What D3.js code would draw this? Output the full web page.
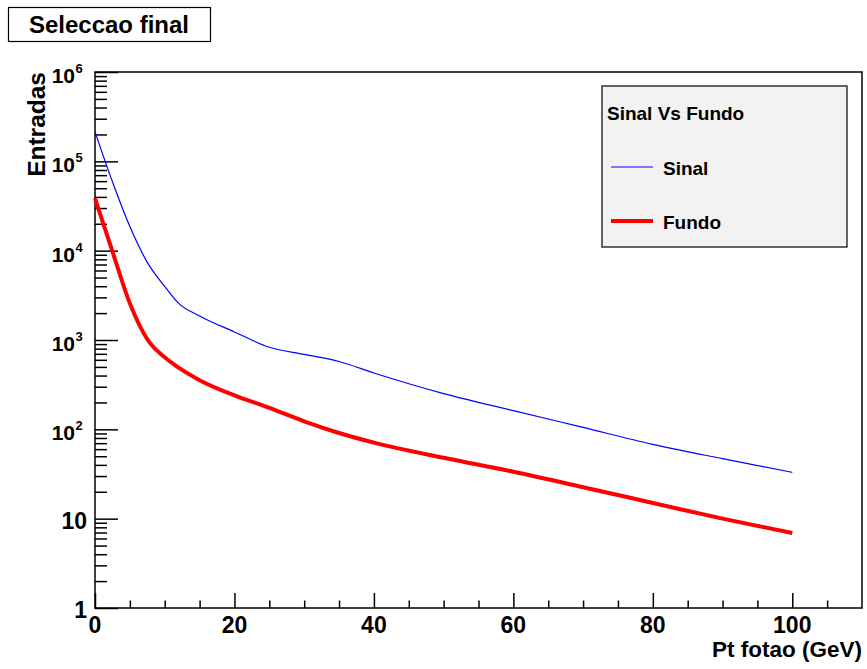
<!DOCTYPE html>
<html>
<head>
<meta charset="utf-8">
<script src="https://cdn.jsdelivr.net/npm/d3@7"></script>
<style>
  body { margin: 0; background: #fff; }
  svg text { font-family: "Liberation Sans", Arial, sans-serif; font-weight: bold; fill: #000; }
</style>
</head>
<body>
<svg id="chart" width="867" height="669"></svg>
<script>
// Pt of the photon (GeV) at which the curves were read
const ptValues = [0, 2.5, 5, 7.5, 10, 12, 15, 20, 25, 30, 35, 40, 50, 60, 70, 80, 90, 100];
// entries, signal (blue, thin)
const sinal = [214000, 59000, 18600, 7400, 3980, 2570, 1860, 1230, 830, 690, 575, 427, 251, 162, 105, 68, 47, 33];
// entries, background (red, thick)
const fundo = [38500, 9800, 2570, 1020, 640, 490, 355, 240, 174, 123, 91, 71, 48, 33.5, 22.5, 15, 10, 6.9];

const xMajorTicks = [0, 20, 40, 60, 80, 100];
const xMinorTicks = [5, 10, 15, 25, 30, 35, 45, 50, 55, 65, 70, 75, 85, 90, 95, 105];
const yMajorTicks = [1, 10, 100, 1e3, 1e4, 1e5, 1e6];
const titleText = "Seleccao final";
const xTitle = "Pt fotao (GeV)";
const yTitle = "Entradas";
const legendTitle = "Sinal Vs Fundo";

const frame = { left: 95, right: 862, top: 72, bottom: 608 };

const svg = d3.select("#chart");

const x = d3.scaleLinear().domain([0, 110]).range([frame.left, frame.right]);
const y = d3.scaleLog().domain([1, 1e6]).range([frame.bottom, frame.top]);

// minor log ticks: 2..9 in each decade
let yMinorTicks = [];
for (let d = 0; d < 6; d++) {
    for (let m = 2; m <= 9; m++) yMinorTicks.push(m * Math.pow(10, d));
}

// frame
svg.append("rect")
    .attr("x", frame.left).attr("y", frame.top)
    .attr("width", frame.right - frame.left)
    .attr("height", frame.bottom - frame.top)
    .attr("fill", "#fff")
    .attr("stroke", "#000")
    .attr("stroke-width", 1.5);

// axes, ticks pointing into the frame
function tickAxis(axis, tr) {
    const g = svg.append("g").attr("transform", tr).call(axis);
    g.select(".domain").remove();
    g.selectAll("line").attr("stroke", "#000").attr("stroke-width", 1.5);
    return g;
}
tickAxis(d3.axisRight(y).tickValues(yMajorTicks).tickSize(23).tickFormat(""), `translate(${frame.left},0)`);
tickAxis(d3.axisRight(y).tickValues(yMinorTicks).tickSize(12).tickFormat(""), `translate(${frame.left},0)`);
tickAxis(d3.axisTop(x).tickValues(xMajorTicks).tickSize(15).tickFormat(""), `translate(0,${frame.bottom})`);
tickAxis(d3.axisTop(x).tickValues(xMinorTicks).tickSize(7.5).tickFormat(""), `translate(0,${frame.bottom})`);

// x tick labels
svg.append("g").selectAll("text")
    .data(xMajorTicks)
    .enter().append("text")
    .attr("x", d => x(d))
    .attr("y", frame.bottom + 25)
    .attr("text-anchor", "middle")
    .style("font-size", "23px")
    .text(d => d);

// y tick labels (10^n for n >= 2)
yMajorTicks.forEach(v => {
    const n = Math.round(Math.log10(v));
    const yy = y(v);
    if (n < 2) {
        svg.append("text")
            .attr("x", 87).attr("y", yy + 10)
            .attr("text-anchor", "end")
            .style("font-size", "23px")
            .text(v);
    } else {
        svg.append("text")
            .attr("x", 75).attr("y", yy + 11)
            .attr("text-anchor", "end")
            .style("font-size", "21px")
            .text("10");
        svg.append("text")
            .attr("x", 75.5).attr("y", yy + 1)
            .attr("text-anchor", "start")
            .style("font-size", "13px")
            .text(n);
    }
});

// axis titles
svg.append("text")
    .attr("x", frame.right).attr("y", 657)
    .attr("text-anchor", "end")
    .style("font-size", "22.5px")
    .text(xTitle);

svg.append("text")
    .attr("transform", `translate(45,${frame.top}) rotate(-90)`)
    .attr("text-anchor", "end")
    .style("font-size", "24.5px")
    .text(yTitle);

// title box
svg.append("rect")
    .attr("x", 8.5).attr("y", 7.5)
    .attr("width", 202).attr("height", 34)
    .attr("fill", "#fff")
    .attr("stroke", "#000")
    .attr("stroke-width", 1.2);
svg.append("text")
    .attr("x", 109).attr("y", 33)
    .attr("text-anchor", "middle")
    .style("font-size", "24px")
    .text(titleText);

// curves
const line = vals => d3.line()
    .x((d, i) => x(ptValues[i]))
    .y(d => y(d))
    .curve(d3.curveMonotoneX)(vals);

svg.append("path")
    .attr("d", line(fundo))
    .attr("fill", "none")
    .attr("stroke", "#ff0000")
    .attr("stroke-width", 4);

svg.append("path")
    .attr("d", line(sinal))
    .attr("fill", "none")
    .attr("stroke", "#0000ff")
    .attr("stroke-width", 1.2);

// legend
const legend = svg.append("g");
legend.append("rect")
    .attr("x", 602).attr("y", 86)
    .attr("width", 245).attr("height", 161)
    .attr("fill", "#f2f2f2")
    .attr("stroke", "#000")
    .attr("stroke-width", 1.2);
legend.append("text")
    .attr("x", 607).attr("y", 120)
    .style("font-size", "19px")
    .text(legendTitle);

const legendItems = [
    { name: "Sinal", color: "#0000ff", width: 1.2, y: 167 },
    { name: "Fundo", color: "#ff0000", width: 4, y: 221 }
];
legendItems.forEach(it => {
    legend.append("line")
        .attr("x1", 611).attr("x2", 653)
        .attr("y1", it.y).attr("y2", it.y)
        .attr("stroke", it.color)
        .attr("stroke-width", it.width);
    legend.append("text")
        .attr("x", 663).attr("y", it.y + 8)
        .style("font-size", "19px")
        .text(it.name);
});
</script>
</body>
</html>
